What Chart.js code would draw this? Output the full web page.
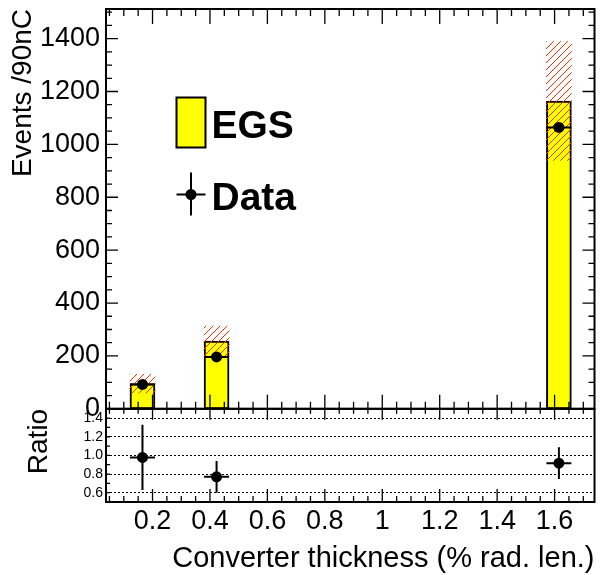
<!DOCTYPE html>
<html>
<head>
<meta charset="utf-8">
<script src="https://cdn.jsdelivr.net/npm/chart.js@4.4.1/dist/chart.umd.min.js"></script>
<style>
  html, body { margin: 0; padding: 0; background: #fff; }
  canvas { display: block; }
</style>
</head>
<body>
<canvas id="chart" width="600" height="575"></canvas>
<script>
// bins (converter thickness, % rad. len.)
const binCenters = [0.165, 0.423, 1.615];
const binHalfWidths = [0.0435, 0.0435, 0.0435];

// top panel: EGS prediction with systematic band, and data
const egsCounts = [95, 256, 1164];
const egsErrors = [35, 57, 225];
const dataCounts = [92, 196, 1064];
const dataErrors = [4, 5, 5];

// bottom panel: data / EGS
const ratioValues = [0.978, 0.77, 0.917];
const ratioErrors = [0.35, 0.17, 0.17];

// tick labels
const xTicks = [0.2, 0.4, 0.6, 0.8, 1, 1.2, 1.4, 1.6];
const yTicks = [0, 200, 400, 600, 800, 1000, 1200, 1400];
const ratioTicks = [0.6, 0.8, 1.0, 1.2, 1.4];

const FONT = "'Liberation Sans', Arial, Helvetica, sans-serif";

// red "/" hatching for the EGS uncertainty
function hatchPattern() {
    const c = document.createElement('canvas');
    c.width = 7; c.height = 7;
    const g = c.getContext('2d');
    g.strokeStyle = '#ff2a00';
    g.lineWidth = 1;
    g.beginPath();
    g.moveTo(-1, 8); g.lineTo(8, -1);
    g.moveTo(-1, 1); g.lineTo(1, -1);
    g.moveTo(6, 8); g.lineTo(8, 6);
    g.stroke();
    return g.createPattern(c, 'repeat');
}

// vertical + horizontal error bars as broken line segments
function errorSegments(xs, ys, yErr, xErr) {
    const pts = [];
    xs.forEach((x, i) => {
        pts.push({x: x, y: ys[i] - yErr[i]}, {x: x, y: ys[i] + yErr[i]}, {x: x, y: null});
        pts.push({x: x - xErr[i], y: ys[i]}, {x: x + xErr[i], y: ys[i]}, {x: x, y: null});
    });
    return pts;
}

function range(from, to, step) {
    const out = [];
    for (let v = from; v <= to + 1e-9; v += step) out.push(Math.round(v * 1000) / 1000);
    return out;
}

// keep the chart area where the pads are, not where the labels want it
function fixedWidth(s) {
    s.width = 106;
    s.paddingTop = 0;
    s.paddingBottom = 0;
}

// ROOT style frame with inward ticks on both pads
const rootFrame = {
    id: 'rootFrame',
    afterDatasetsDraw(chart) {
        const {ctx, chartArea: a, scales: {x, y, yRatio: r}} = chart;
        ctx.save();
        ctx.strokeStyle = '#000';

        const xMinor = range(0.05, 1.7, 0.05);
        const isMajorX = v => xTicks.some(t => Math.abs(t - v) < 1e-6);

        ctx.lineWidth = 1.3;
        ctx.beginPath();
        xMinor.forEach(v => {
            const px = x.getPixelForValue(v);
            const big = isMajorX(v);
            // top pad, upper edge and lower edge
            ctx.moveTo(px, y.top); ctx.lineTo(px, y.top + (big ? 15 : 7));
            ctx.moveTo(px, y.bottom); ctx.lineTo(px, y.bottom - (big ? 14 : 7));
            // ratio pad
            ctx.moveTo(px, r.top); ctx.lineTo(px, r.top + (big ? 11 : 5));
            ctx.moveTo(px, r.bottom); ctx.lineTo(px, r.bottom - (big ? 13 : 6));
        });
        range(0, 1500, 50).forEach(v => {
            const py = y.getPixelForValue(v);
            const len = v % 200 === 0 ? 12 : 6;
            ctx.moveTo(a.left, py); ctx.lineTo(a.left + len, py);
            ctx.moveTo(a.right, py); ctx.lineTo(a.right - len, py);
        });
        range(0.5, 1.5, 0.1).forEach(v => {
            const py = r.getPixelForValue(v);
            ctx.moveTo(a.left, py); ctx.lineTo(a.left + 4, py);
        });
        ctx.stroke();

        ctx.lineWidth = 2;
        ctx.strokeRect(a.left, y.top, a.right - a.left, y.bottom - y.top);
        ctx.strokeRect(a.left, r.top, a.right - a.left, r.bottom - r.top);
        ctx.restore();
    },
    afterDraw(chart) {
        const {ctx, chartArea: a} = chart;
        const lx = a.left + 70.5, ly = a.top + 88.5;
        ctx.save();
        ctx.fillStyle = '#ffff00';
        ctx.strokeStyle = '#000';
        ctx.lineWidth = 2;
        ctx.fillRect(lx, ly, 29, 50);
        ctx.strokeRect(lx, ly, 29, 50);

        ctx.lineWidth = 2;
        ctx.beginPath();
        ctx.moveTo(lx + 14.5, ly + 75); ctx.lineTo(lx + 14.5, ly + 118);
        ctx.moveTo(lx, ly + 97); ctx.lineTo(lx + 29, ly + 97);
        ctx.stroke();
        ctx.fillStyle = '#000';
        ctx.beginPath();
        ctx.arc(lx + 14.5, ly + 97, 5.5, 0, Math.PI * 2);
        ctx.fill();

        ctx.font = 'bold 39px ' + FONT;
        ctx.textBaseline = 'alphabetic';
        ctx.fillText('EGS', lx + 35, ly + 40);
        ctx.fillText('Data', lx + 35, ly + 112);
        ctx.restore();
    }
};

const ctx = document.getElementById('chart').getContext('2d');

new Chart(ctx, {
    type: 'bar',
    data: {
        datasets: [
            {
                label: 'EGS',
                data: binCenters.map((x, i) => ({x: x, y: egsCounts[i]})),
                yAxisID: 'y',
                backgroundColor: '#ffff00',
                borderColor: '#000',
                borderWidth: 2,
                borderSkipped: false,
                barThickness: 25,
                grouped: false,
                order: 5
            },
            {
                label: 'EGS uncertainty',
                data: binCenters.map((x, i) => ({x: x, y: [egsCounts[i] - egsErrors[i], egsCounts[i] + egsErrors[i]]})),
                yAxisID: 'y',
                backgroundColor: hatchPattern(),
                borderWidth: 0,
                barThickness: 25,
                grouped: false,
                order: 4
            },
            {
                type: 'line',
                label: 'Data errors',
                data: errorSegments(binCenters, dataCounts, dataErrors, binHalfWidths),
                yAxisID: 'y',
                borderColor: '#000',
                borderWidth: 2,
                pointRadius: 0,
                spanGaps: false,
                order: 2
            },
            {
                type: 'line',
                label: 'Data',
                data: binCenters.map((x, i) => ({x: x, y: dataCounts[i]})),
                yAxisID: 'y',
                showLine: false,
                pointRadius: 5.5,
                pointBackgroundColor: '#000',
                pointBorderWidth: 0,
                order: 1
            },
            {
                type: 'line',
                label: 'Ratio errors',
                data: errorSegments(binCenters, ratioValues, ratioErrors, binHalfWidths),
                yAxisID: 'yRatio',
                borderColor: '#000',
                borderWidth: 2,
                pointRadius: 0,
                spanGaps: false,
                order: 2
            },
            {
                type: 'line',
                label: 'Ratio',
                data: binCenters.map((x, i) => ({x: x, y: ratioValues[i]})),
                yAxisID: 'yRatio',
                showLine: false,
                pointRadius: 5.5,
                pointBackgroundColor: '#000',
                pointBorderWidth: 0,
                order: 1
            }
        ]
    },
    options: {
        responsive: false,
        animation: false,
        devicePixelRatio: 1,
        layout: { padding: { top: 9, right: 1, left: 0, bottom: 0 } },
        plugins: {
            legend: { display: false },
            tooltip: { enabled: false }
        },
        scales: {
            x: {
                type: 'linear',
                min: 0.038,
                max: 1.739,
                offset: false,
                afterBuildTicks: s => { s.ticks = xTicks.map(v => ({value: v})); },
                afterFit: s => { s.height = 73; s.paddingLeft = 0; s.paddingRight = 0; },
                grid: { display: false, drawTicks: false, offset: false },
                border: { display: false },
                ticks: {
                    autoSkip: false,
                    maxRotation: 0,
                    padding: 3,
                    color: '#000',
                    font: { family: FONT, size: 27 },
                    callback: v => String(v)
                },
                title: {
                    display: true,
                    text: 'Converter thickness (% rad. len.)',
                    align: 'end',
                    color: '#000',
                    font: { family: FONT, size: 29, lineHeight: 1.1 },
                    padding: 0
                }
            },
            yRatio: {
                type: 'linear',
                axis: 'y',
                position: 'left',
                stack: 'pads',
                stackWeight: 93,
                weight: 0,
                min: 0.5,
                max: 1.5,
                afterBuildTicks: s => { s.ticks = ratioTicks.map(v => ({value: v})); },
                afterFit: fixedWidth,
                grid: { display: true, color: '#000', lineWidth: 1, drawTicks: false },
                border: { display: false, dash: [2, 2] },
                ticks: {
                    autoSkip: false,
                    padding: 3,
                    color: '#000',
                    font: { family: FONT, size: 14 },
                    callback: v => v.toFixed(1)
                },
                title: {
                    display: true,
                    text: 'Ratio',
                    align: 'end',
                    color: '#000',
                    font: { family: FONT, size: 28 },
                    padding: { top: 22, bottom: 0 }
                }
            },
            y: {
                type: 'linear',
                position: 'left',
                stack: 'pads',
                stackWeight: 399,
                weight: 1,
                min: 0,
                max: 1512,
                afterBuildTicks: s => { s.ticks = yTicks.map(v => ({value: v})); },
                afterFit: fixedWidth,
                grid: { display: false, drawTicks: false },
                border: { display: false },
                ticks: {
                    autoSkip: false,
                    padding: 6,
                    color: '#000',
                    font: { family: FONT, size: 27 },
                    callback: v => String(v)
                },
                title: {
                    display: true,
                    text: 'Events /90nC',
                    align: 'end',
                    color: '#000',
                    font: { family: FONT, size: 28 },
                    padding: { top: 6, bottom: 0 }
                }
            }
        }
    },
    plugins: [rootFrame]
});
</script>
</body>
</html>
